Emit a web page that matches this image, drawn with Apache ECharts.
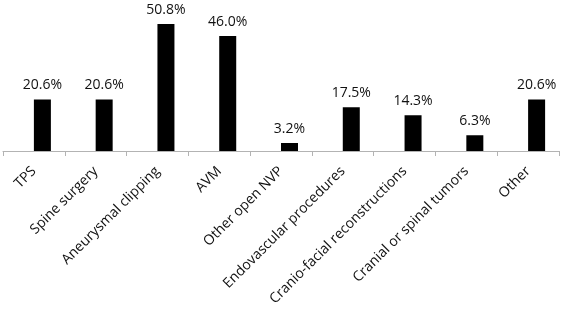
<!DOCTYPE html>
<html>
<head>
<meta charset="utf-8">
<script src="https://cdn.jsdelivr.net/npm/echarts@6/dist/echarts.min.js"></script>
<style>
  html, body { margin: 0; padding: 0; background: #fff; }
  #chart { width: 561px; height: 310px; }
</style>
</head>
<body>
<div id="chart"></div>
<script>
const categories = [
  'TPS',
  'Spine surgery',
  'Aneurysmal clipping',
  'AVM',
  'Other open NVP',
  'Endovascular procedures',
  'Cranio-facial reconstructions',
  'Cranial or spinal tumors',
  'Other'
];
const percentages = [20.6, 20.6, 50.8, 46.0, 3.2, 17.5, 14.3, 6.3, 20.6];
// Excel left an empty first series, which shifts the bars right of centre
const emptySeries = categories.map(() => '-');

const chart = echarts.init(document.getElementById('chart'));
const font = '"Open Sans", sans-serif';

chart.setOption({
  backgroundColor: '#fff',
  animation: false,
  grid: { left: 3, right: 2, top: 1, bottom: 159, containLabel: false },
  xAxis: {
    type: 'category',
    data: categories,
    axisLine: { lineStyle: { color: '#b3b3b3', width: 1 } },
    axisTick: { show: true, length: 5, lineStyle: { color: '#b3b3b3' } },
    axisLabel: {
      interval: 0,
      rotate: 45,
      margin: 18,
      color: '#111',
      fontSize: 14,
      fontFamily: font
    }
  },
  yAxis: {
    type: 'value',
    min: 0,
    max: 60,
    show: false,
    splitLine: { show: false }
  },
  series: [
    {
      type: 'bar',
      data: emptySeries,
      barWidth: 17,
      barGap: '0%'
    },
    {
      type: 'bar',
      data: percentages,
      barWidth: 17,
      barGap: '0%',
      itemStyle: { color: '#000' },
      label: {
        show: true,
        position: 'top',
        distance: 7,
        color: '#111',
        fontSize: 14,
        fontFamily: font,
        formatter: p => p.value.toFixed(1) + '%'
      }
    }
  ]
});
</script>
</body>
</html>
